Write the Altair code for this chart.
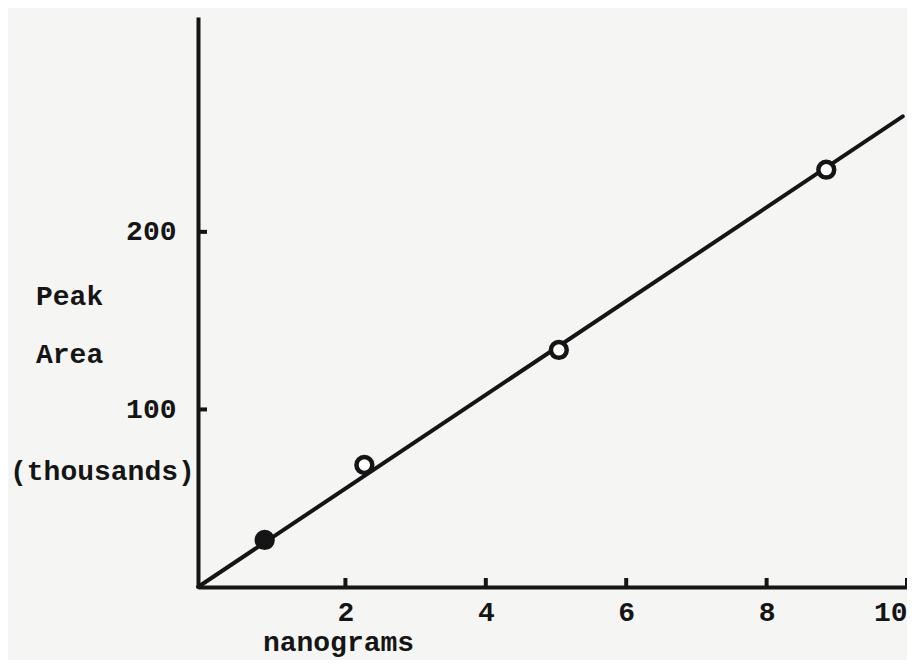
import altair as alt
import pandas as pd

# Data
ng = [0.85, 2.27, 5.04, 8.85]
area = [26.5, 68.7, 133.5, 235.0]
line_x = [-0.1, 9.94]
line_y = [0.0, 265.0]
x_ticks = [2, 4, 6, 8, 10]
y_ticks = [100, 200]
ylab_lines = ["Peak", "Area", "(thousands)"]

FONT = "Liberation Mono"
INK = "#151515"
W, H = 709, 570

pts = pd.DataFrame({"ng": ng, "area": area})
ln = pd.DataFrame({"ng": line_x, "area": line_y})
xt = pd.DataFrame({"v": x_ticks})
yt = pd.DataFrame({"v": y_ticks})

xs = alt.Scale(domain=[-0.1, 10.0], nice=False, zero=False)
ys = alt.Scale(domain=[0, 321], nice=False, zero=False)

xaxis = alt.Axis(values=x_ticks, format="d", ticks=False, grid=False, domainColor=INK, domainWidth=4,
                 labelFont=FONT, labelFontSize=28, labelColor=INK, labelPadding=25,
                 labelFontWeight="bold", labelFlush=10,
                 labelBaseline="middle", title="nanograms", titleFont=FONT, titleFontSize=28,
                 titleFontWeight="bold", titleColor=INK, titleX=140, titleY=55,
                 titleBaseline="middle", titleAlign="center")
yaxis = alt.Axis(values=y_ticks, format="d", ticks=False, grid=False, domainColor=INK, domainWidth=4,
                 labelFont=FONT, labelFontSize=28, labelColor=INK, labelPadding=22,
                 labelFontWeight="bold", title=None)

line = alt.Chart(ln).mark_line(color=INK, strokeWidth=4, strokeCap="round").encode(
    x=alt.X("ng:Q", scale=xs, axis=xaxis),
    y=alt.Y("area:Q", scale=ys, axis=yaxis),
)

points = alt.Chart(pts).mark_point(shape="circle", size=250, filled=False,
                                    fillOpacity=1, stroke=INK, strokeWidth=4.5, opacity=1).encode(
    x=alt.X("ng:Q", scale=xs),
    y=alt.Y("area:Q", scale=ys),
    fill=alt.condition("datum.ng < 1", alt.value(INK), alt.value("white")),
)

xtick = alt.Chart(xt).mark_rule(color=INK, strokeWidth=4).encode(
    x=alt.X("v:Q", scale=xs),
    y=alt.value(H),
    y2=alt.value(H - 9),
)
ytick = alt.Chart(yt).mark_rule(color=INK, strokeWidth=4).encode(
    y=alt.Y("v:Q", scale=ys),
    x=alt.value(0),
    x2=alt.value(9),
)

def ylab(i, x, y):
    return alt.Chart(pd.DataFrame({"t": [ylab_lines[i]]})).mark_text(
        font=FONT, fontSize=28, fontWeight="bold", color=INK, align="left", baseline="middle"
    ).encode(text="t:N", x=alt.value(x), y=alt.value(y))

chart = alt.layer(
    line, xtick, ytick, points,
    ylab(0, -162, 280), ylab(1, -162, 338), ylab(2, -188, 455),
).properties(
    width=W, height=H,
    autosize=alt.AutoSizeParams(type="none"),
    padding={"left": 190, "top": 9, "right": 0, "bottom": 73},
    background="#f5f5f3",
).configure_view(stroke=None)

chart.save("out.html", embed_options={"renderer": "svg", "actions": False})
